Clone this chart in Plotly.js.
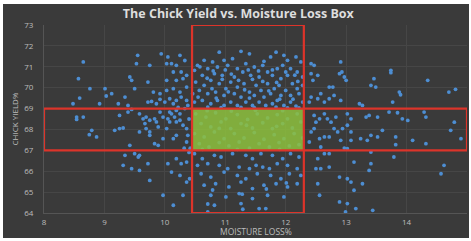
<!DOCTYPE html>
<html>
<head>
<meta charset="utf-8">
<script src="https://cdn.plot.ly/plotly-3.0.1.min.js"></script>
<style>
  html, body { margin: 0; padding: 0; background: #ffffff; }
  #chart { position: absolute; left: 3px; top: 4px; width: 466px; height: 234px; }
</style>
</head>
<body>
<div id="chart"></div>
<script>
// Points left of the central box (moisture loss %, chick yield %)
const leftPoints = [
  [8.65,71.23],[9.55,71.55],[9.53,71.15],[9.94,71.62],[10.05,71.47],[10.11,71.15],[10.19,71.07],[10.25,71.55],[10.03,71.15],[9.75,71.07],
  [8.57,70.43],[8.76,69.95],[9.01,69.95],[9.12,69.71],[9.03,69.60],[9.42,70.51],[9.45,70.35],[9.72,70.27],[9.50,69.95],[9.34,69.55],
  [8.92,69.23],[8.48,69.23],[8.59,69.50],[9.23,69.23],[9.39,69.15],[9.45,68.96],[9.72,69.31],[9.78,69.34],[9.86,69.23],[9.92,69.44],
  [10.00,69.31],[10.08,69.47],[10.14,69.23],[10.19,69.39],[10.27,69.55],[10.36,69.39],[10.38,69.15],[9.81,69.79],[9.92,69.71],[10.03,69.87],
  [10.14,69.95],[10.25,69.79],[10.36,70.03],[10.30,70.43],[10.19,70.35],[10.03,70.35],[10.14,70.75],[10.27,70.75],[10.36,70.59],[10.33,71.30],
  [8.54,68.59],[8.54,68.48],[8.65,68.59],[8.79,67.96],[8.75,67.75],[8.87,67.64],[9.17,67.96],[9.25,68.04],[9.31,68.07],[9.25,68.67],
  [9.39,68.83],[9.58,68.75],[9.64,68.51],[9.69,68.59],[9.75,68.44],[9.67,68.28],[9.69,68.04],[9.75,67.88],[9.83,68.51],[9.86,68.36],
  [9.89,68.12],[9.92,68.83],[9.97,68.59],[10.05,68.51],[10.08,68.36],[10.11,68.75],[10.16,68.59],[10.19,68.36],[10.25,68.44],[10.25,68.75],
  [10.30,68.20],[10.36,68.04],[10.38,67.72],[10.36,67.40],[10.19,67.72],[10.14,67.56],[10.03,68.04],[9.97,67.56],[9.89,67.24],[9.83,67.32],
  [9.75,67.72],[9.58,67.88],[10.08,68.83],[10.19,68.91],[10.33,69.00],[10.22,69.05],[10.40,68.50],[10.42,67.10],[10.32,67.10],
  [9.42,67.24],[9.34,66.76],[9.50,66.84],[9.56,66.68],[9.58,66.76],[9.31,66.28],[9.45,66.12],[9.58,66.04],[9.72,66.36],[9.75,65.56],
  [10.05,66.36],[10.19,66.60],[10.27,66.36],[10.36,66.44],[10.11,65.96],[10.25,65.80],[10.36,65.48],[10.41,65.64],[9.97,64.85],[10.14,64.37],
  [10.30,64.85],[10.40,66.90]
];

// Points inside the moisture-loss band of the central box
const centerPoints = [
  [10.90,71.70],[11.26,71.74],[11.40,71.62],[11.84,71.70],[11.97,71.55],[10.65,71.31],[10.79,71.23],[10.98,71.31],[11.12,71.39],[11.64,71.26],
  [11.75,71.47],[12.03,71.31],[12.17,71.47],[12.25,71.23],[10.54,71.07],[10.71,70.91],[10.87,70.99],[11.04,71.07],[11.20,70.91],[11.34,71.15],
  [11.48,70.99],[11.62,71.07],[11.70,70.75],[11.86,70.91],[11.95,71.07],[12.08,70.91],[12.19,70.75],[10.62,70.59],[10.82,70.67],[10.95,70.59],
  [11.15,70.51],[11.29,70.75],[11.42,70.59],[11.56,70.51],[11.78,70.59],[11.92,70.43],[12.03,70.59],[12.28,70.51],[10.49,70.83],[10.51,70.27],
  [10.65,70.11],[10.76,70.35],[10.90,70.19],[11.01,69.95],[11.09,70.27],[11.20,70.03],[11.31,70.19],[11.40,69.79],[11.51,70.11],[11.59,69.87],
  [11.70,70.19],[11.81,69.95],[11.89,70.11],[12.00,69.87],[12.11,70.19],[12.19,69.95],[12.28,70.11],[10.57,69.87],[10.71,69.71],[10.84,69.79],
  [10.98,69.63],[11.15,69.71],[11.26,69.55],[11.48,69.63],[11.64,69.55],[11.75,69.71],[11.92,69.63],[12.08,69.63],[12.22,69.71],[10.46,69.71],
  [10.49,69.31],[10.62,69.39],[10.76,69.23],[10.87,69.39],[10.98,69.15],[11.09,69.31],[11.20,69.15],[11.34,69.31],[11.45,69.15],[11.56,69.31],
  [11.67,69.15],[11.78,69.23],[11.86,69.39],[11.97,69.15],[12.08,69.31],[12.17,69.12],[12.28,69.31],[10.71,69.07],[10.93,69.04],[11.26,69.06],
  [11.48,69.04],[11.84,69.07],[12.03,69.03],[12.22,69.03],[10.58,71.00],[10.80,70.80],[11.00,70.85],[11.10,70.65],[11.38,70.85],[11.55,70.80],
  [11.78,70.85],[12.00,70.75],[12.15,70.60],[10.70,70.45],[10.95,70.40],[11.22,70.35],[11.45,70.40],[11.62,70.30],[11.85,70.25],[12.20,70.30],
  [10.55,69.55],[10.78,69.95],[11.05,69.80],[11.32,69.90],[11.72,69.85],[11.90,69.45],[12.12,69.45],[11.40,69.50],[10.85,69.50],
  [10.51,68.75],[10.68,68.59],[10.84,68.80],[11.01,68.51],[11.20,68.71],[11.37,68.48],[11.53,68.75],[11.70,68.55],[11.86,68.71],[12.03,68.51],
  [12.19,68.75],[10.60,68.28],[10.76,68.12],[10.93,68.36],[11.09,68.04],[11.26,68.28],[11.45,68.07],[11.62,68.32],[11.78,68.04],[11.95,68.28],
  [12.11,68.07],[12.25,68.36],[10.49,67.80],[10.65,67.64],[10.82,67.88],[10.98,67.56],[11.15,67.80],[11.31,67.59],[11.48,67.85],[11.64,67.53],
  [11.81,67.75],[11.97,67.56],[12.14,67.80],[12.28,67.59],[10.57,67.32],[10.73,67.16],[10.90,67.37],[11.06,67.21],[11.23,67.40],[11.40,67.11],
  [11.56,67.32],[11.73,67.16],[11.89,67.37],[12.06,67.21],[12.22,67.27],[10.70,68.90],[11.10,68.88],[11.50,68.92],[11.95,68.90],[10.90,68.05],
  [11.35,68.20],[11.85,68.15],[10.62,67.05],[11.20,67.05],[11.90,67.05],
  [10.49,66.84],[10.62,66.60],[10.82,66.76],[10.93,66.68],[11.12,66.84],[11.34,66.76],[11.45,66.60],[11.59,66.84],[11.78,66.76],[11.95,66.60],
  [12.08,66.84],[12.22,66.68],[10.54,66.28],[10.71,66.36],[10.90,66.28],[11.04,66.12],[11.23,66.20],[11.40,66.12],[11.51,66.28],[11.62,66.20],
  [11.73,66.12],[11.86,66.36],[12.03,66.28],[12.19,66.12],[10.60,65.88],[10.76,65.72],[10.98,65.96],[11.20,65.80],[11.34,65.64],[11.53,65.88],
  [11.75,65.80],[11.92,65.64],[12.06,65.88],[12.25,65.80],[10.65,65.33],[10.84,65.40],[11.06,65.25],[11.26,65.48],[11.45,65.17],[11.64,65.33],
  [11.84,65.40],[12.03,65.25],[12.19,65.40],[10.76,64.85],[11.01,64.77],[11.23,64.93],[11.45,64.69],[11.70,64.85],[11.97,64.77],[10.82,64.37],
  [11.26,64.45],[11.56,64.21],[11.67,64.21],[11.29,64.18],[10.71,64.05],[10.79,65.10],[11.28,64.90],[11.68,65.15],[12.01,65.44],[10.71,64.43]
];

// Points right of the central box
const rightPoints = [
  [12.42,71.15],[12.47,71.07],[12.91,71.23],[12.89,70.67],[12.93,70.75],[12.97,70.51],[13.00,70.35],[12.42,70.67],[12.53,70.59],[12.45,70.35],
  [12.72,70.03],[12.78,70.03],[13.74,70.83],[13.74,70.72],[13.46,70.43],[13.49,70.03],[13.41,70.11],[14.35,70.35],[14.70,69.79],[14.81,69.92],
  [13.88,69.79],[13.90,69.66],[13.77,69.31],[13.22,69.23],[13.27,69.15],[12.91,69.39],[12.42,69.55],[12.53,69.47],[12.58,69.71],[12.39,69.31],
  [12.64,69.31],[12.72,69.47],[12.80,69.63],
  [12.47,68.67],[12.56,68.51],[12.64,68.75],[12.69,68.51],[12.50,68.35],[12.75,68.35],[12.83,68.59],[13.02,68.75],[13.08,68.51],[13.33,68.59],
  [13.38,68.67],[13.52,68.59],[13.71,68.83],[13.85,68.80],[13.93,68.51],[14.02,68.43],[14.29,68.83],[14.32,68.59],[14.79,68.35],[14.73,67.96],
  [14.90,67.56],[14.32,67.32],[14.10,67.48],[13.82,67.64],[13.82,67.27],[13.60,67.96],[13.52,67.64],[13.41,67.72],[13.35,67.48],[13.24,67.56],
  [13.08,67.88],[13.02,68.20],[12.94,68.04],[12.86,67.88],[12.80,68.04],[12.72,67.64],[12.64,67.64],[12.56,67.56],[12.42,67.88],[12.47,68.04],
  [12.39,67.40],[12.58,67.16],[12.91,67.48],[13.08,67.48],[12.97,67.11],
  [12.53,66.60],[12.72,66.84],[12.64,66.84],[13.02,67.08],[13.41,66.92],[12.50,66.12],[12.58,66.12],[12.72,66.20],[13.13,66.44],[13.41,66.36],
  [13.79,66.68],[13.38,66.04],[12.89,65.72],[13.02,65.64],[13.08,65.48],[12.53,65.40],[13.27,65.40],[14.62,66.28],[14.57,65.88],[12.56,64.85],
  [13.13,65.09],[12.89,64.53],[13.02,64.45],[13.16,64.21],[13.44,64.13],[12.99,64.05]
];

// Box limits (moisture loss band and chick yield band)
const moistureBand = [10.45, 12.3];
const yieldBand = [67, 69];
const xRange = [8, 15];
const yRange = [64, 73];
const xTicks = [8, 9, 10, 11, 12, 13, 14, 15];
const yTicks = [64, 65, 66, 67, 68, 69, 70, 71, 72, 73];

const allPoints = leftPoints.concat(centerPoints, rightPoints);
const moisture = allPoints.map(p => p[0]);
const chickYield = allPoints.map(p => p[1]);

const red = '#dc342a';
const tickFont = { family: 'Open Sans, sans-serif', size: 8, color: '#bdbdbd' };

const trace = {
  type: 'scatter',
  mode: 'markers',
  x: moisture,
  y: chickYield,
  cliponaxis: false,
  marker: { color: '#4d8ed3', size: 3.8, line: { width: 0 } },
  hoverinfo: 'skip'
};

const layout = {
  width: 466,
  height: 234,
  margin: { l: 41, r: 2, t: 21, b: 25 },
  paper_bgcolor: '#3a3a3a',
  plot_bgcolor: '#3a3a3a',
  showlegend: false,
  title: {
    text: 'The Chick Yield vs. Moisture Loss Box',
    font: { family: 'Open Sans, sans-serif', size: 12.5, color: '#dedede', weight: 'bold' },
    x: 0.505, xanchor: 'center', y: 0.96, yanchor: 'middle'
  },
  xaxis: {
    range: xRange,
    tickvals: xTicks,
    ticktext: xTicks.map(String),
    tickfont: tickFont,
    showgrid: true,
    gridcolor: '#464646',
    gridwidth: 1,
    zeroline: false,
    showline: true,
    linecolor: '#555555',
    ticks: '',
    ticklabelstandoff: 1,
    automargin: false
  },
  yaxis: {
    range: yRange,
    tickvals: yTicks,
    ticktext: yTicks.map(String),
    tickfont: tickFont,
    showgrid: true,
    gridcolor: '#464646',
    gridwidth: 1,
    zeroline: false,
    showline: true,
    linecolor: '#555555',
    ticks: '',
    ticklabelstandoff: 8,
    automargin: false,
    title: { text: 'CHICK YIELD%', font: { family: 'Open Sans, sans-serif', size: 8, color: '#bdbdbd' }, standoff: 4 }
  },
  annotations: [
    {
      text: 'MOISTURE LOSS%', xref: 'paper', yref: 'paper', x: 0.5, y: 0,
      xanchor: 'center', yanchor: 'middle', yshift: -18, showarrow: false,
      font: { family: 'Open Sans, sans-serif', size: 8.5, color: '#bdbdbd' }
    }
  ],
  shapes: [
    {
      type: 'rect', xref: 'x', yref: 'y', layer: 'above',
      x0: moistureBand[0], x1: moistureBand[1], y0: yieldBand[0], y1: yieldBand[1],
      fillcolor: '#8dc03e', opacity: 0.86, line: { width: 0 }
    },
    {
      type: 'rect', xref: 'x', yref: 'y', layer: 'above',
      x0: moistureBand[0], x1: moistureBand[1], y0: yRange[0], y1: yRange[1],
      fillcolor: 'rgba(0,0,0,0)', line: { color: red, width: 2.2 }
    },
    {
      type: 'rect', xref: 'x', yref: 'y', layer: 'above',
      x0: xRange[0], x1: xRange[1], y0: yieldBand[0], y1: yieldBand[1],
      fillcolor: 'rgba(0,0,0,0)', line: { color: red, width: 2.2 }
    }
  ]
};

Plotly.newPlot('chart', [trace], layout, { staticPlot: true, displayModeBar: false });
</script>
</body>
</html>
